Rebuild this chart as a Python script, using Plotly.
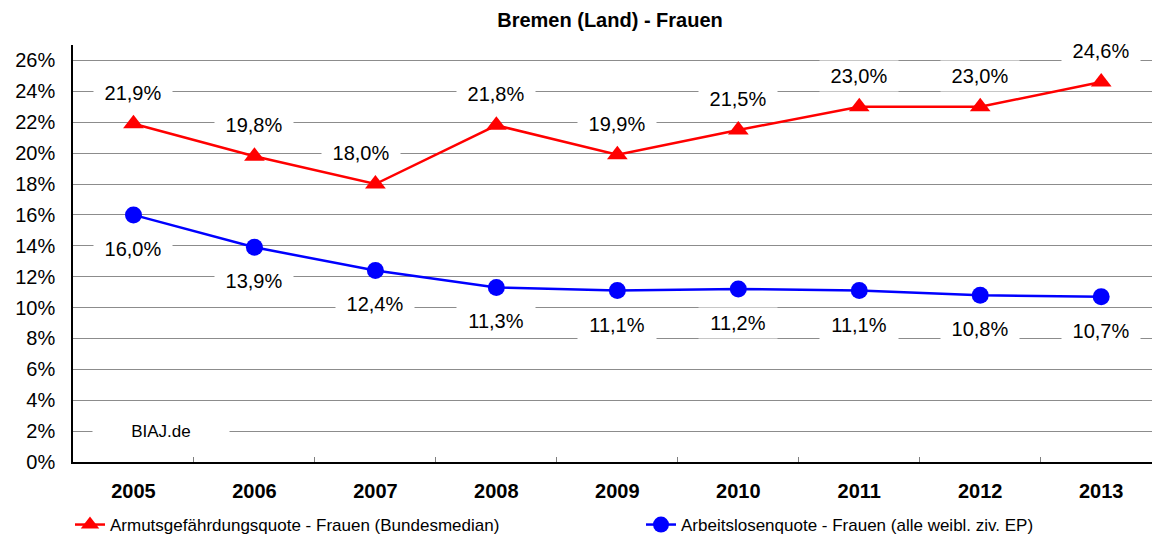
import plotly.graph_objects as go

years = ["2005", "2006", "2007", "2008", "2009", "2010", "2011", "2012", "2013"]
armut = [21.9, 19.8, 18.0, 21.8, 19.9, 21.5, 23.0, 23.0, 24.6]
alq = [16.0, 13.9, 12.4, 11.3, 11.1, 11.2, 11.1, 10.8, 10.7]
name_armut = "Armutsgefährdungsquote - Frauen (Bundesmedian)"
name_alq = "Arbeitslosenquote - Frauen (alle weibl. ziv. EP)"
y_ticks = list(range(0, 27, 2))

FONT = "Arial, Liberation Sans, sans-serif"

# horizontal label nudges (pixels), as in the original chart
armut_label_xshift = {2: -14}

def fmt(v):
    return f"{v:.1f}".replace(".", ",") + "%"

fig = go.Figure()
fig.add_trace(go.Scatter(
    x=years, y=armut, name=name_armut, mode="lines+markers",
    line=dict(color="#ff0000", width=2.5),
    marker=dict(symbol="triangle-up", size=18, color="#ff0000"),
    legend="legend",
))
fig.add_trace(go.Scatter(
    x=years, y=alq, name=name_alq, mode="lines+markers",
    line=dict(color="#0000ff", width=2.5),
    marker=dict(symbol="circle", size=17, color="#0000ff"),
    legend="legend2",
))

for i, v in enumerate(armut):
    fig.add_annotation(x=i, y=v, text=fmt(v), showarrow=False, yshift=31,
                       xshift=armut_label_xshift.get(i, 0),
                       xanchor="center", yanchor="middle",
                       bgcolor="white", width=76, height=28,
                       font=dict(family=FONT, size=20, color="black"))
for i, v in enumerate(alq):
    fig.add_annotation(x=i, y=v, text=fmt(v), showarrow=False, yshift=-34,
                       xanchor="center", yanchor="middle",
                       bgcolor="white", width=76, height=28,
                       font=dict(family=FONT, size=20, color="black"))

fig.add_annotation(xref="paper", yref="y", x=(161 - 73) / 1079, y=2, text="BIAJ.de",
                   xanchor="center", yanchor="middle",
                   showarrow=False, bgcolor="white", width=134, height=26,
                   font=dict(family=FONT, size=17, color="black"))

fig.update_layout(
    width=1152, height=537,
    margin=dict(l=73, r=0, t=45, b=75),
    paper_bgcolor="white", plot_bgcolor="white",
    font=dict(family=FONT, color="black"),
    title=dict(text="Bremen (Land) - Frauen", x=610 / 1152, xanchor="center",
               y=1 - 20 / 537, yanchor="middle",
               font=dict(family=FONT, size=20, weight="bold", color="black")),
    showlegend=True,
    legend=dict(xref="container", yref="container", x=70 / 1152, y=1 - 525 / 537,
                xanchor="left", yanchor="middle", orientation="h",
                font=dict(family=FONT, size=17, color="black"), bgcolor="rgba(0,0,0,0)"),
    legend2=dict(xref="container", yref="container", x=641 / 1152, y=1 - 525 / 537,
                 xanchor="left", yanchor="middle", orientation="h",
                 font=dict(family=FONT, size=17, color="black"), bgcolor="rgba(0,0,0,0)"),
)

fig.update_xaxes(
    type="category", range=[-0.5, 8.42], showgrid=False, zeroline=False,
    showline=True, linecolor="black", linewidth=1.5, automargin=False,
    ticks="inside", tickson="boundaries", ticklen=5, tickcolor="#808080",
    tickfont=dict(family=FONT, size=20, weight="bold", color="black"),
    ticklabelstandoff=10,
)
fig.update_yaxes(
    range=[0, 27], tickvals=y_ticks, ticktext=[f"{t}%" for t in y_ticks],
    showgrid=True, gridcolor="#8c8c8c", gridwidth=1, zeroline=False,
    showline=True, linecolor="black", linewidth=1.5, ticks="", automargin=False,
    tickfont=dict(family=FONT, size=20, color="black"),
    ticklabelstandoff=12,
)

fig.write_html(
    "out.html",
    config={"displayModeBar": False},
    post_script="document.body.style.margin='0';document.body.style.overflow='hidden';",
)
